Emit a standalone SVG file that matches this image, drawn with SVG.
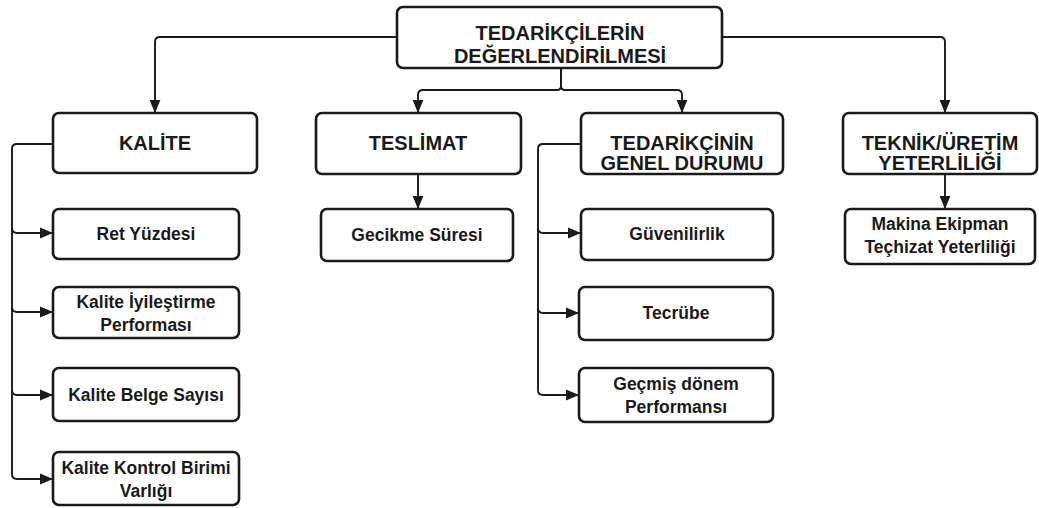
<svg xmlns="http://www.w3.org/2000/svg" width="1039" height="508" viewBox="0 0 1039 508">
<defs>
<marker id="arr" viewBox="0 0 12 12" refX="12" refY="6" markerWidth="13" markerHeight="13" markerUnits="userSpaceOnUse" orient="auto">
<path d="M0,1 L12,6 L0,11 Z" fill="#1a1a1a"/>
</marker>
<style>
.box{fill:#fff;stroke:#1a1a1a;stroke-width:2.6}
.h{font-family:"Liberation Sans",Arial,sans-serif;font-weight:bold;font-size:20px;fill:#1a1a1a;text-anchor:middle}
.c{font-family:"Liberation Sans",Arial,sans-serif;font-weight:bold;font-size:17.5px;fill:#1a1a1a;text-anchor:middle}
.ln{fill:none;stroke:#1a1a1a;stroke-width:1.9}
</style>
</defs>
<rect width="1039" height="508" fill="#fff"/>
<g id="connectors">
<path class="ln" d="M397,37 H160 Q155,37 155,42 V113" marker-end="url(#arr)"/>
<path class="ln" d="M722,37 H940 Q945,37 945,42 V113" marker-end="url(#arr)"/>
<path class="ln" d="M561,68 V86 Q561,90 557,90 H423 Q418,90 418,95 V113" marker-end="url(#arr)"/>
<path class="ln" d="M561,68 V86 Q561,90 565,90 H677 Q682,90 682,95 V113" marker-end="url(#arr)"/>
<path class="ln" d="M418,174 V209" marker-end="url(#arr)"/>
<path class="ln" d="M945,174 V209" marker-end="url(#arr)"/>
<path class="ln" d="M53,144 H17 Q12,144 12,149 V228 Q12,233 17,233 H53" marker-end="url(#arr)"/>
<path class="ln" d="M12,228 V307 Q12,312 17,312 H53" marker-end="url(#arr)"/>
<path class="ln" d="M12,307 V390 Q12,395 17,395 H53" marker-end="url(#arr)"/>
<path class="ln" d="M12,390 V474 Q12,479 17,479 H53" marker-end="url(#arr)"/>
<path class="ln" d="M581,144 H543 Q538,144 538,149 V228 Q538,233 543,233 H581" marker-end="url(#arr)"/>
<path class="ln" d="M538,228 V308 Q538,313 543,313 H579" marker-end="url(#arr)"/>
<path class="ln" d="M538,308 V390 Q538,395 543,395 H579" marker-end="url(#arr)"/>
</g>
<g id="root">
<rect class="box" x="397" y="7" width="325" height="61" rx="6"/>
<text class="h" x="560" y="40">TEDARİKÇİLERİN</text>
<text class="h" x="560" y="63">DEĞERLENDİRİLMESİ</text>
</g>
<g id="kalite">
<rect class="box" x="53" y="113" width="204" height="60" rx="6"/>
<text class="h" x="155" y="150">KALİTE</text>
</g>
<g id="teslimat">
<rect class="box" x="316" y="113" width="205" height="61" rx="6"/>
<text class="h" x="418" y="150">TESLİMAT</text>
</g>
<g id="genel">
<rect class="box" x="581" y="113" width="202" height="61" rx="6"/>
<text class="h" x="682" y="150">TEDARİKÇİNİN</text>
<text class="h" x="682" y="170">GENEL DURUMU</text>
</g>
<g id="teknik">
<rect class="box" x="843" y="113" width="194" height="61" rx="6"/>
<text class="h" x="940" y="150">TEKNİK/ÜRETİM</text>
<text class="h" x="940" y="170">YETERLİLİĞİ</text>
</g>
<g id="ret">
<rect class="box" x="53" y="209" width="186" height="50" rx="6"/>
<text class="c" x="146" y="240">Ret Yüzdesi</text>
</g>
<g id="iyilestirme">
<rect class="box" x="53" y="287" width="186" height="51" rx="6"/>
<text class="c" x="146" y="308">Kalite İyileştirme</text>
<text class="c" x="146" y="331">Performası</text>
</g>
<g id="belge">
<rect class="box" x="53" y="368" width="186" height="53" rx="6"/>
<text class="c" x="146" y="401">Kalite Belge Sayısı</text>
</g>
<g id="kontrol">
<rect class="box" x="53" y="452" width="186" height="53" rx="6"/>
<text class="c" x="146" y="474">Kalite Kontrol Birimi</text>
<text class="c" x="146" y="497">Varlığı</text>
</g>
<g id="gecikme">
<rect class="box" x="321" y="209" width="192" height="52" rx="6"/>
<text class="c" x="417" y="241">Gecikme Süresi</text>
</g>
<g id="guvenilirlik">
<rect class="box" x="581" y="209" width="192" height="51" rx="6"/>
<text class="c" x="677" y="240">Güvenilirlik</text>
</g>
<g id="tecrube">
<rect class="box" x="579" y="287" width="194" height="53" rx="6"/>
<text class="c" x="676" y="319">Tecrübe</text>
</g>
<g id="gecmis">
<rect class="box" x="579" y="368" width="194" height="54" rx="6"/>
<text class="c" x="676" y="390">Geçmiş dönem</text>
<text class="c" x="676" y="413">Performansı</text>
</g>
<g id="makina">
<rect class="box" x="845" y="209" width="190" height="55" rx="6"/>
<text class="c" x="940" y="230">Makina Ekipman</text>
<text class="c" x="940" y="253">Teçhizat Yeterliliği</text>
</g>
</svg>
